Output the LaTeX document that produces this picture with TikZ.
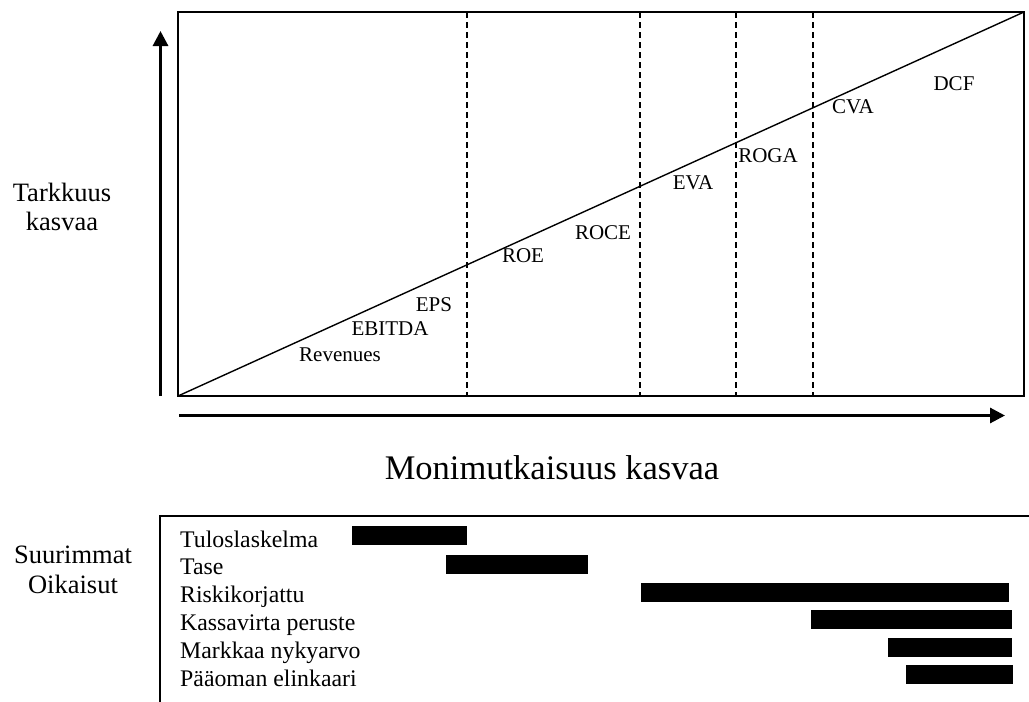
\documentclass[tikz,border=0pt]{standalone}
\usepackage{fontspec}
\setmainfont{Liberation Serif}
\usetikzlibrary{arrows.meta}
\begin{document}
\begin{tikzpicture}[x=1pt,y=-1pt,
  lbl/.style={inner sep=0pt,font=\fontsize{21}{25}\selectfont},
  lst/.style={inner sep=0pt,anchor=base west,font=\fontsize{23.8}{27}\selectfont},
  side/.style={inner sep=0pt,align=center,font=\fontsize{26.5}{29.5}\selectfont},
  bar/.style={fill=black,draw=none},
  thinline/.style={line width=1.4pt},
  bigarrow/.style={line width=3pt,-{Triangle[length=15pt,width=15pt]}},
  sep/.style={line width=1.2pt,dash pattern=on 6pt off 4pt}]
\useasboundingbox (0,0) rectangle (1029,702);
% main box
\coordinate (bl) at (178,396);
\coordinate (tr) at (1024,12);
\draw[thinline] (bl) rectangle (tr);
\draw[thinline] (bl) -- (tr);
\foreach \x/\n in {467/a,640/b,736/c,813/d}{
  \coordinate (t\n) at (\x,12);
  \coordinate (b\n) at (\x,396);
  \draw[sep] (t\n) -- (b\n);
}
% axes arrows
\coordinate (vs) at (160.5,396);
\coordinate (ve) at (160.5,31);
\draw[bigarrow] (vs) -- (ve);
\coordinate (hs) at (179,415.5);
\coordinate (he) at (1005,415.5);
\draw[bigarrow] (hs) -- (he);
% chart labels
\node[lbl] (dcf) at (954,84) {DCF};
\node[lbl] (cva) at (853,107) {CVA};
\node[lbl] (roga) at (768,156) {ROGA};
\node[lbl] (eva) at (693,183) {EVA};
\node[lbl] (roce) at (603,233) {ROCE};
\node[lbl] (roe) at (523,256) {ROE};
\node[lbl] (eps) at (434,305) {EPS};
\node[lbl] (ebitda) at (390,329) {EBITDA};
\node[lbl] (rev) at (340,355) {Revenues};
% axis labels
\node[side] (tark) at (62,207) {Tarkkuus\\kasvaa};
\node[inner sep=0pt,font=\fontsize{34.5}{38}\selectfont] (mon) at (552,468) {Monimutkaisuus kasvaa};
\node[side] (suur) at (73,570) {Suurimmat\\Oikaisut};
% bottom box
\coordinate (bt0) at (160,516);
\coordinate (bt1) at (1029,516);
\coordinate (bb0) at (160,702);
\draw[thinline] (bb0) -- (bt0) -- (bt1);
% list
\node[lst] (l1) at (180,547) {Tuloslaskelma};
\node[lst] (l2) at (180,574) {Tase};
\node[lst] (l3) at (180,602) {Riskikorjattu};
\node[lst] (l4) at (180,630) {Kassavirta peruste};
\node[lst] (l5) at (180,658) {Markkaa nykyarvo};
\node[lst] (l6) at (180,686) {Pääoman elinkaari};
% bars
\fill[bar] (352,526) rectangle (467,545);
\fill[bar] (446,555) rectangle (588,574);
\fill[bar] (641,583) rectangle (1009,602);
\fill[bar] (811,610) rectangle (1012,629);
\fill[bar] (888,638) rectangle (1012,657);
\fill[bar] (906,665) rectangle (1013,684);
\end{tikzpicture}
\end{document}
